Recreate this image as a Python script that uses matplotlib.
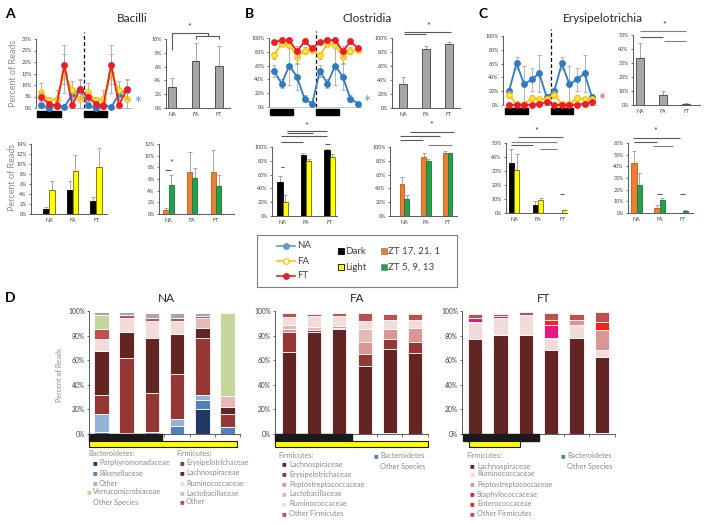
import matplotlib
matplotlib.use('Agg')
import matplotlib.pyplot as plt
import numpy as np
from matplotlib.patches import Rectangle
import matplotlib.transforms as mtransforms

plt.rcParams['font.family'] = ['Lato', 'DejaVu Sans']

W, H = 707, 525
fig = plt.figure(figsize=(W / 100, H / 100), dpi=100)


def ax_px(l, t, r, b, **kw):
    return fig.add_axes([l / W, 1 - b / H, (r - l) / W, (b - t) / H], **kw)


# ---------------- data: time courses (ZT 17, 21, 1, 5, 9, 13) ----------------
groups = ['NA', 'FA', 'FT']

bac_na = [1.2, 0.0, 1.5, 0.3, 6.0, 8.0]
bac_fa = [7.0, 3.3, 4.0, 15.0, 7.8, 4.0]
bac_ft = [4.8, 1.9, 1.0, 18.8, 1.3, 8.2]
bac_na_err = [1.0, 0.3, 1.0, 0.3, 2.5, 4.0]
bac_fa_err = [4.0, 1.5, 4.0, 8.5, 4.0, 4.0]
bac_ft_err = [2.0, 1.0, 1.5, 8.5, 1.0, 4.5]

clo_na = [52, 34, 60, 44, 12, 5]
clo_fa = [75, 91.7, 90, 73, 81.5, 83]
clo_ft = [94, 96.6, 97, 80.5, 95, 85]
clo_na_err = [9, 7, 28, 20, 5, 2]
clo_fa_err = [5, 3, 4, 10, 5, 4]
clo_ft_err = [3, 2, 2, 8, 3, 3]

ery_na = [20, 60.5, 30, 37, 46, 11]
ery_fa = [15, 1, 1, 10, 8, 9]
ery_ft = [0.5, 0.5, 0.5, 0.5, 2, 4]
ery_na_err = [5, 9, 26, 17, 27, 5]
ery_fa_err = [5, 1, 1, 4, 2, 3]
ery_ft_err = [0.5, 0.5, 0.5, 0.5, 1, 2]

# ---------------- data: summary bars ----------------
bac_mean = [3.0, 6.8, 6.1]
bac_mean_err = [1.3, 2.6, 2.9]
bac_dark = [1.0, 4.8, 2.5]
bac_dark_err = [0.3, 1.7, 0.9]
bac_light = [4.8, 8.6, 9.4]
bac_light_err = [1.7, 3.2, 3.8]
bac_zt_a = [0.7, 7.2, 7.2]
bac_zt_a_err = [0.4, 3.5, 3.8]
bac_zt_b = [5.0, 6.2, 4.8]
bac_zt_b_err = [1.7, 1.7, 1.9]

clo_mean = [35, 84, 91]
clo_mean_err = [10, 4, 3]
clo_dark = [49, 88, 95]
clo_dark_err = [9, 3, 2]
clo_light = [21, 79, 86]
clo_light_err = [9, 3, 4]
clo_zt_a = [46, 86, 91]
clo_zt_a_err = [10, 5, 3]
clo_zt_b = [24, 80, 91]
clo_zt_b_err = [7, 3, 1]

ery_mean = [33.5, 7.5, 1.0]
ery_mean_err = [10.5, 2.5, 0.3]
ery_dark = [35.5, 6.0, 0.3]
ery_dark_err = [10.5, 2.5, 0.0]
ery_light = [31, 9, 2]
ery_light_err = [11, 2, 0.5]
ery_zt_a = [42.5, 4.0, 0.3]
ery_zt_a_err = [10.5, 2.5, 0.0]
ery_zt_b = [24, 11, 2]
ery_zt_b_err = [10, 1.5, 0.5]

# ---------------- data: panel D stacked composition ----------------
na_porph = [0, 0, 0, 0, 20, 0]
na_riken = [1.5, 0, 0, 6.5, 7.5, 5.5]
na_othbact = [15, 1, 1.5, 6, 4, 0.5]
na_erys = [15.5, 60.5, 31.5, 36.5, 46.5, 10.5]
na_lach = [35.5, 21.5, 44.7, 32, 8, 5.5]
na_rum = [10, 11.5, 14.3, 11, 0, 0]
na_lacto = [0, 0, 0, 0, 8, 9]
na_othfirm = [7.5, 2.2, 2, 2.4, 2, 0]
na_verr = [12, 0, 0, 0, 0, 67]
na_othsp = [2, 2.3, 4.5, 4.2, 2.6, 1]

fa_bact = [0, 0, 0, 0, 0.7, 0]
fa_lach = [67, 83, 85, 55, 68.8, 66]
fa_erys = [16, 1.3, 1, 10, 7.5, 8.6]
fa_pepto = [2, 0, 2, 10, 8.7, 11.4]
fa_lacto = [4, 2.7, 0, 10, 0, 0]
fa_rum = [6, 8.7, 8, 6.6, 6.7, 6.4]
fa_othfirm = [3, 2.1, 2, 6.4, 5.4, 5.4]

ft_bact = [0, 0, 0, 0, 0, 1]
ft_lach = [77, 80.5, 80.5, 68.6, 78.4, 61.7]
ft_rum = [13.5, 13.5, 16, 8.4, 10, 5.9]
ft_pepto = [0.5, 0, 0, 1, 4.6, 16.3]
ft_staph = [3.6, 1.6, 0, 10.6, 0, 0]
ft_entero = [0, 0, 0, 3.8, 0, 6.1]
ft_othfirm = [3.2, 2.2, 2.5, 6.2, 4.8, 7.9]

# ---------------- colours ----------------
C_NA, C_FA, C_FT = '#2e7bc4', '#ffc000', '#ee1c25'
C_NA_L = '#5b9bd5'
C_GRAY = '#a6a6a6'
C_YEL = '#ffff00'
C_ORA = '#ed7d31'
C_GRN = '#22a04b'
C_ERR = '#a6a6a6'
c_porph, c_riken, c_othbact = '#1f3864', '#4f81bd', '#95b3d7'
c_verr, c_othsp = '#c3d69b', '#a6a6a6'
c_erys, c_lach, c_rum = '#953735', '#632523', '#f2dcdb'
c_lacto, c_othfirm, c_pepto = '#e6b9b8', '#c0504d', '#d99694'
c_staph, c_entero, c_bact = '#e8177d', '#ff1f1f', '#4f81bd'

TXT = '#404040'


def pct(ax, step, top):
    ax.set_ylim(0, top)
    ax.set_yticks(np.arange(0, top + 0.01, step))
    ax.set_yticklabels(['%d%%' % v for v in np.arange(0, top + 0.01, step)])


def style(ax, fs=3.8):
    for s in ['top', 'right']:
        ax.spines[s].set_visible(False)
    for s in ['left', 'bottom']:
        ax.spines[s].set_color('#404040')
        ax.spines[s].set_linewidth(0.6)
    ax.tick_params(axis='y', length=1.8, width=0.5, labelsize=fs, colors=TXT, pad=1.2)
    ax.tick_params(axis='x', length=0, labelsize=fs, colors=TXT, pad=3)
    ax.patch.set_alpha(0)


def line_panel(rect, p0, sp, series, top, step, star_col, bar_off):
    l, t, r, b = rect
    ax = ax_px(l, t, r, b)
    style(ax)
    ax.spines['bottom'].set_color('#bfbfbf')
    ax.set_xticks([])
    ax.set_xlim((l - p0) / sp, (r - p0) / sp)
    pct(ax, step, top)
    x = np.arange(12)
    z = 3
    for vals, err, col, face in series:
        v = np.tile(vals, 2)
        e = np.tile(err, 2)
        ax.errorbar(x, v, yerr=e, fmt='none', ecolor=C_ERR, elinewidth=0.6,
                    capsize=1.5, capthick=0.6, zorder=z, clip_on=False)
        ax.plot(x, v, '-o', color=col, mfc=face, mec=col, ms=4.0, mew=0.9,
                lw=1.3, zorder=z + 0.5, clip_on=False)
        z += 1
    ax.axvline(5.5, ymin=0, ymax=1.1, color='black', ls=(0, (3, 2)), lw=0.9, clip_on=False)
    tr = mtransforms.blended_transform_factory(ax.transData, ax.transAxes)
    hh = b - t
    for x0 in (-0.5, 5.5):
        ax.add_patch(Rectangle((x0, -(bar_off + 6) / hh), 3.0, 6 / hh, transform=tr,
                               color='black', clip_on=False))
    ax.text((r + 5 - p0) / sp, 0.06, '*', transform=tr, color=star_col,
            fontsize=12, ha='center', va='center')
    return ax


def bar_panel(rect, pos0, sp, top, step, bars, width):
    l, t, r, b = rect
    ax = ax_px(l, t, r, b)
    style(ax)
    ax.set_xlim((l - pos0) / sp, (r - pos0) / sp)
    pct(ax, step, top)
    x = np.arange(3)
    for off, vals, err, fc, ec in bars:
        ax.bar(x + off, vals, width=width, color=fc, edgecolor=ec, linewidth=0.6, zorder=2)
        ax.errorbar(x + off, vals, yerr=[np.zeros(3), err], fmt='none', ecolor=C_ERR,
                    elinewidth=0.7, capsize=1.5, capthick=0.7, zorder=1)
    ax.set_xticks(x)
    ax.set_xticklabels(groups)
    return ax


def sig(ax, xs, ys, col='#595959'):
    ax.plot(xs, ys, color=col, lw=0.8, clip_on=False, solid_capstyle='butt')


def star(ax, x, y):
    ax.text(x, y, '*', fontsize=6.5, color=TXT, ha='center', va='center', clip_on=False)


# ================= Panel A =================
line_panel((36, 39, 133, 108), 41, 7.8,
           [(bac_na, bac_na_err, C_NA, C_NA),
            (bac_fa, bac_fa_err, C_FA, '#ffe94d'),
            (bac_ft, bac_ft_err, C_FT, C_FT)], 30, 5, C_NA_L, 3)

axA2 = bar_panel((166, 39, 230, 108), 172, 23.5, 10, 2,
                 [(0, bac_mean, bac_mean_err, C_GRAY, '#404040')], 0.34)
sig(axA2, [0, 0, 1.55, 1.55], [8.4, 10.9, 10.9, 10.4])
sig(axA2, [1, 1, 2, 2], [10.0, 10.4, 10.4, 10.0])
star(axA2, 0.72, 11.6)

bar_panel((31, 144, 107, 214), 49, 23.5, 14, 2,
          [(-0.125, bac_dark, bac_dark_err, 'black', 'black'),
           (0.125, bac_light, bac_light_err, C_YEL, '#6b6b00')], 0.24)

axA4 = bar_panel((159, 144, 234, 214), 168.5, 23.7, 12, 2,
                 [(-0.11, bac_zt_a, bac_zt_a_err, C_ORA, '#c55a11'),
                  (0.11, bac_zt_b, bac_zt_b_err, C_GRN, '#1a7a39')], 0.22)
sig(axA4, [-0.15, 0.1], [7.5, 7.5])
star(axA4, 0.1, 8.7)

# ================= Panel B =================
line_panel((269, 38, 362, 107), 274, 7.64,
           [(clo_na, clo_na_err, C_NA, C_NA),
            (clo_fa, clo_fa_err, C_FA, '#ffe94d'),
            (clo_ft, clo_ft_err, C_FT, C_FT)], 100, 20, C_NA_L, 2)

axB2 = bar_panel((392, 38, 460, 108), 403, 23, 100, 20,
                 [(0, clo_mean, clo_mean_err, C_GRAY, '#404040')], 0.34)
sig(axB2, [0.05, 2.1], [108.6, 108.6])
sig(axB2, [0.05, 1.0], [105.4, 105.4])
star(axB2, 1.1, 117)

axB3 = bar_panel((272, 147, 337, 216), 282.5, 23.5, 100, 20,
                 [(-0.11, clo_dark, clo_dark_err, 'black', 'black'),
                  (0.11, clo_light, clo_light_err, C_YEL, '#6b6b00')], 0.22)
sig(axB3, [0.19, 1.89], [123, 123])
sig(axB3, [0.19, 1.3], [120, 120])
sig(axB3, [-0.06, 1.89], [116, 116])
sig(axB3, [-0.06, 0.87], [107, 107])
sig(axB3, [-0.06, 0.07], [71, 71])
sig(axB3, [1.8, 2.0], [104, 104])
star(axB3, 1.0, 130)

axB4 = bar_panel((390, 147, 457, 216), 404.5, 21.5, 100, 20,
                 [(-0.11, clo_zt_a, clo_zt_a_err, C_ORA, '#c55a11'),
                  (0.11, clo_zt_b, clo_zt_b_err, C_GRN, '#1a7a39')], 0.22)
sig(axB4, [0.25, 2.3], [122, 122])
sig(axB4, [-0.2, 1.65], [116, 116])
sig(axB4, [-0.2, 0.86], [110, 110])
sig(axB4, [1.1, 2.2], [103, 103], '#7f7f7f')
star(axB4, 1.23, 131)

# ================= Panel C =================
line_panel((503, 36, 597, 105), 509, 7.55,
           [(ery_na, ery_na_err, C_NA, C_NA),
            (ery_fa, ery_fa_err, C_FA, '#ffe94d'),
            (ery_ft, ery_ft_err, C_FT, C_FT)], 100, 20, '#ff4d4d', 3)

axC2 = bar_panel((633, 35, 700, 105), 640, 23, 50, 10,
                 [(0, ery_mean, ery_mean_err, C_GRAY, '#404040')], 0.34)
sig(axC2, [0, 2], [52.9, 52.9], '#7f7f7f')
sig(axC2, [0, 1], [48.6, 48.6])
sig(axC2, [1.05, 2], [45.7, 45.7], '#7f7f7f')
star(axC2, 1.05, 57)

axC3 = bar_panel((506, 143, 567, 213), 514, 24, 50, 10,
                 [(-0.11, ery_dark, ery_dark_err, 'black', 'black'),
                  (0.11, ery_light, ery_light_err, C_YEL, '#6b6b00')], 0.22)
sig(axC3, [0.17, 2.04], [54.3, 54.3])
sig(axC3, [-0.12, 1.8], [50.7, 50.7], '#7f7f7f')
sig(axC3, [-0.12, 0.8], [48.6, 48.6])
sig(axC3, [1.1, 1.8], [45.7, 45.7], '#7f7f7f')
sig(axC3, [1.9, 2.1], [13.6, 13.6])
star(axC3, 0.92, 58.5)

axC4 = bar_panel((628, 143, 693, 213), 636.5, 23, 60, 10,
                 [(-0.11, ery_zt_a, ery_zt_a_err, C_ORA, '#c55a11'),
                  (0.11, ery_zt_b, ery_zt_b_err, C_GRN, '#1a7a39')], 0.22)
sig(axC4, [-0.15, 1.9], [64.3, 64.3])
sig(axC4, [-0.1, 0.9], [61, 61])
sig(axC4, [0.7, 1.6], [57.6, 57.6], '#7f7f7f')
sig(axC4, [0.9, 1.1], [16.3, 16.3])
sig(axC4, [1.9, 2.1], [16.3, 16.3])
star(axC4, 0.8, 70)

# ================= Legend box =================
lg = ax_px(257, 235, 457, 287)
lg.set_xlim(257, 457)
lg.set_ylim(287, 235)
lg.set_xticks([])
lg.set_yticks([])
for s in lg.spines.values():
    s.set_color('#7f7f7f')
    s.set_linewidth(0.8)
for yy, col, face, lab in [(246, C_NA_L, C_NA_L, 'NA'), (261, C_FA, 'white', 'FA'), (276, C_FT, C_FT, 'FT')]:
    lg.plot([277, 295], [yy, yy], color=col, lw=1.2)
    lg.plot([286], [yy], 'o', color=col, mfc=face, mec=col, ms=4, mew=0.9)
    lg.text(297, yy, lab, fontsize=7, color=TXT, va='center', ha='left')
for yy, fc, ec, lab in [(251, 'black', 'black', 'Dark'), (267, C_YEL, 'black', 'Light')]:
    lg.plot([341], [yy], 's', mfc=fc, mec=ec, ms=4, mew=0.6)
    lg.text(345, yy, lab, fontsize=7, color=TXT, va='center', ha='left')
for yy, fc, ec, lab in [(251, C_ORA, '#7f7f7f', 'ZT 17, 21, 1'), (267, C_GRN, '#7f7f7f', 'ZT 5, 9, 13')]:
    lg.plot([384], [yy], 's', mfc=fc, mec=ec, ms=4, mew=0.5)
    lg.text(388, yy, lab, fontsize=7, color=TXT, va='center', ha='left')


# ================= Panel D =================
def stacked(rect, pos0, sp, width, segs, black_rng, yellow_rng):
    l, t, r, b = rect
    ax = ax_px(l, t, r, b)
    style(ax, fs=4.8)
    ax.set_xlim((l - pos0) / sp, (r - pos0) / sp)
    pct(ax, 20, 100)
    x = np.arange(6)
    cum = np.zeros(6)
    for vals, col in segs:
        v = np.array(vals, dtype=float)
        ax.bar(x, v, bottom=cum, width=width, color=col, edgecolor='white', linewidth=0.6)
        cum += v
    ax.set_xticks(np.arange(0.5, 5.6, 1))
    ax.set_xticklabels([])
    ax.tick_params(axis='x', length=2, width=0.5, colors='#404040')
    tr = mtransforms.blended_transform_factory(ax.transData, ax.transAxes)
    hh = b - t
    ax.add_patch(Rectangle((black_rng[0], -7 / hh), black_rng[1] - black_rng[0], 7 / hh,
                           transform=tr, facecolor='#1a1a1a', edgecolor='#1a1a1a',
                           clip_on=False, zorder=3))
    ax.add_patch(Rectangle((yellow_rng[0], -13 / hh), yellow_rng[1] - yellow_rng[0], 6 / hh,
                           transform=tr, facecolor=C_YEL, edgecolor='#1a1a1a', lw=0.8,
                           clip_on=False, zorder=3))
    return ax


stacked((89, 311, 240, 434), 102, 26, 0.58,
        [(na_porph, c_porph), (na_riken, c_riken), (na_othbact, c_othbact),
         (na_erys, c_erys), (na_lach, c_lach), (na_rum, c_rum), (na_lacto, c_lacto),
         (na_othfirm, c_othfirm), (na_verr, c_verr), (na_othsp, c_othsp)],
        (-0.5, 2.42), (-0.5, 5.38))

stacked((275, 311, 428, 434), 289, 25.2, 0.56,
        [(fa_bact, c_bact), (fa_lach, c_lach), (fa_erys, c_erys), (fa_pepto, c_pepto),
         (fa_lacto, c_lacto), (fa_rum, c_rum), (fa_othfirm, c_othfirm)],
        (-0.55, 2.5), (-0.55, 5.5))

stacked((462, 311, 615, 434), 475, 25.4, 0.56,
        [(ft_bact, c_bact), (ft_lach, c_lach), (ft_rum, c_rum), (ft_pepto, c_pepto),
         (ft_staph, c_staph), (ft_entero, c_entero), (ft_othfirm, c_othfirm)],
        (-0.47, 2.52), (-0.24, 1.77))

# ================= overlay texts =================
ov = fig.add_axes([0, 0, 1, 1], zorder=10)
ov.set_xlim(0, W)
ov.set_ylim(H, 0)
ov.axis('off')

for x, y, s in [(10, 14, 'A'), (249, 14, 'B'), (483, 14, 'C'), (10, 298, 'D')]:
    ov.text(x, y, s, fontsize=10, fontweight='bold', ha='center', va='center', color='black')
for x, y, s in [(132, 19, 'Bacilli'), (367, 19, 'Clostridia'), (603, 19, 'Erysipelotrichia'),
                (166, 299, 'NA'), (357, 299, 'FA'), (544, 299, 'FT')]:
    ov.text(x, y, s, fontsize=8.5, ha='center', va='center', color='#262626')

GR = '#8c8c8c'
for x, y, fs in [(14, 73, 6.5), (13, 177, 6.5), (60, 375, 5.2)]:
    ov.text(x, y, 'Percent of Reads', rotation=90, fontsize=fs, color=GR, ha='center', va='center')

LF = 5.3


def leg_item(xs, xt, y, col, lab):
    if col is not None:
        ov.text(xs, y, '\u25a0', fontsize=3.6, color=col, ha='center', va='center',
                family=['DejaVu Sans'])
    ov.text(xt, y, lab, fontsize=LF, color=GR, ha='left', va='center')


# NA legend
ov.text(88, 454, 'Bacteroidetes:', fontsize=LF, color=GR, ha='left', va='center')
leg_item(95, 99, 463, c_porph, 'Porphyromonadaceae')
leg_item(95, 99, 473, c_riken, 'Rikenellaceae')
leg_item(95, 99, 483, c_othbact, 'Other')
leg_item(89, 93, 492, c_verr, 'Verrucomicrobiaceae')
leg_item(89, 93, 502, None, 'Other Species')
ov.text(176, 454, 'Firmicutes:', fontsize=LF, color=GR, ha='left', va='center')
leg_item(182, 186, 463, c_erys, 'Erysipelotrichaceae')
leg_item(182, 186, 473, c_lach, 'Lachnospiraceae')
leg_item(182, 186, 483, c_rum, 'Ruminococcaceae')
leg_item(182, 186, 493, c_lacto, 'Lactobacillaceae')
leg_item(182, 186, 502, c_othfirm, 'Other')

# FA legend
ov.text(278, 455, 'Firmicutes:', fontsize=LF, color=GR, ha='left', va='center')
for yy, col, lab in [(464, c_lach, 'Lachnospiraceae'), (474, c_erys, 'Erysipelotrichaceae'),
                     (484, c_pepto, 'Peptostreptococcaceae'), (494, c_lacto, 'Lactobacillaceae'),
                     (504, c_rum, 'Ruminococcaceae'), (514, c_othfirm, 'Other Firmicutes')]:
    leg_item(284, 289, yy, col, lab)
leg_item(376, 380, 456, c_bact, 'Bacteroidetes')
leg_item(376, 380, 466, None, 'Other Species')

# FT legend
ov.text(466, 456, 'Firmicutes:', fontsize=LF, color=GR, ha='left', va='center')
for yy, col, lab in [(466, c_lach, 'Lachnospiraceae'), (474, c_rum, 'Ruminococcaceae'),
                     (484, c_pepto, 'Peptostreptococcaceae'), (494, c_staph, 'Staphylococcaceae'),
                     (504, c_entero, 'Enterococcaceae'), (514, c_othfirm, 'Other Firmicutes')]:
    leg_item(472, 477, yy, col, lab)
leg_item(563, 567, 456, c_bact, 'Bacteroidetes')
leg_item(563, 567, 466, None, 'Other Species')

fig.savefig('out.png', dpi=100)
